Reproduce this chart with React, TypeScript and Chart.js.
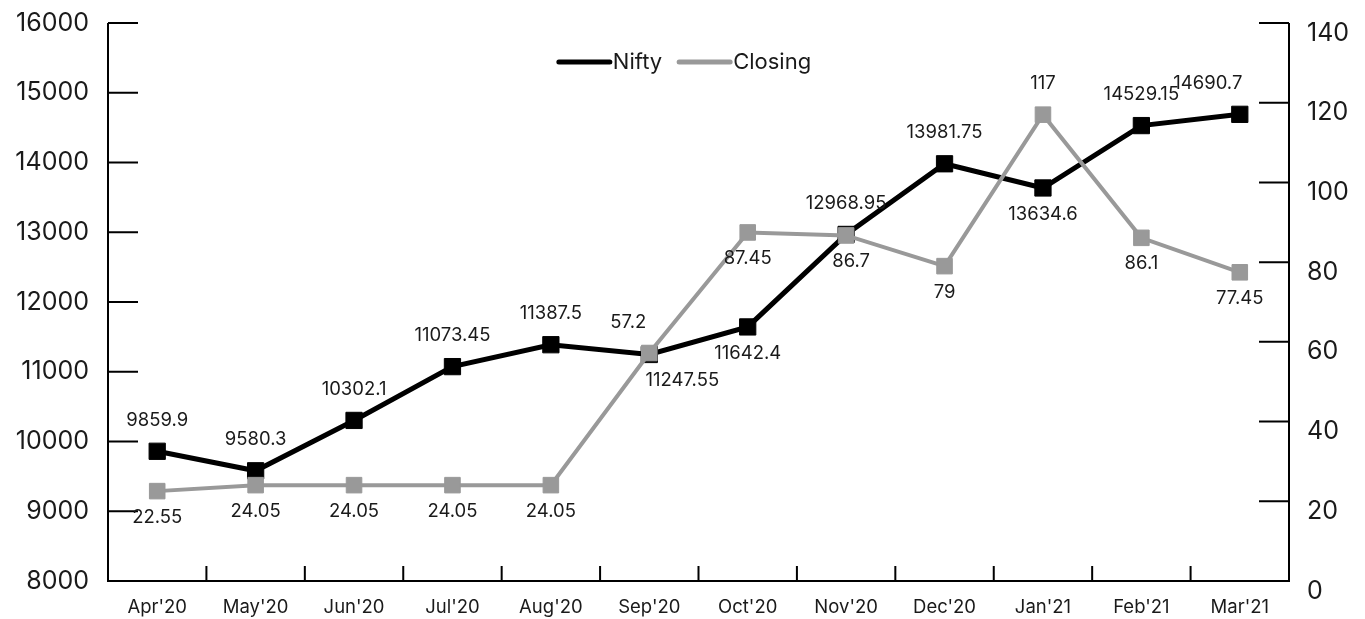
import React, { useEffect, useRef } from "react";
import { Chart, registerables } from "chart.js";

Chart.register(...registerables);

const categories = ["Apr'20", "May'20", "Jun'20", "Jul'20", "Aug'20", "Sep'20", "Oct'20", "Nov'20", "Dec'20", "Jan'21", "Feb'21", "Mar'21"];
const niftyValues = [9859.9, 9580.3, 10302.1, 11073.45, 11387.5, 11247.55, 11642.4, 12968.95, 13981.75, 13634.6, 14529.15, 14690.7];
const closingValues = [22.55, 24.05, 24.05, 24.05, 24.05, 57.2, 87.45, 86.7, 79, 117, 86.1, 77.45];
const niftyLabelSide = ["a", "a", "a", "a", "a", "b", "b", "a", "a", "b", "a", "a"];
const niftyLabelDx = [0, 0, 0, 0, 0, 33, 0, 0, 0, 0, 0, -32];
const closingLabelSide = ["b", "b", "b", "b", "b", "a", "b", "b", "b", "a", "b", "b"];
const closingLabelDx = [0, 0, 0, 0, 0, -21, 0, 5, 0, 0, 0, 0];

const FONT = "Inter, 'Noto Sans', sans-serif";
const TEXT = "#1a1a1a";
const BLACK = "#000000";
const GRAY = "#999999";

const overlayPlugin = {
  id: "overlay",
  beforeDatasetsDraw(chart: any) {
    const { ctx, chartArea } = chart;
    const { left, right, top, bottom } = chartArea;
    const yL = chart.scales.y;
    const yR = chart.scales.y1;
    const x = chart.scales.x;
    ctx.save();
    ctx.strokeStyle = BLACK;
    ctx.lineWidth = 2;
    ctx.lineCap = "butt";
    ctx.beginPath();
    ctx.moveTo(left, top);
    ctx.lineTo(left, bottom);
    ctx.lineTo(right, bottom);
    ctx.lineTo(right, top);
    ctx.stroke();
    ctx.beginPath();
    yL.ticks.forEach((t: any) => {
      const py = yL.getPixelForValue(t.value);
      ctx.moveTo(left, py);
      ctx.lineTo(left + 30, py);
    });
    yR.ticks.forEach((t: any) => {
      const py = yR.getPixelForValue(t.value);
      ctx.moveTo(right, py);
      ctx.lineTo(right - 30, py);
    });
    for (let i = 1; i < categories.length; i++) {
      const px = (x.getPixelForValue(i - 1) + x.getPixelForValue(i)) / 2;
      ctx.moveTo(px, bottom);
      ctx.lineTo(px, bottom - 15);
    }
    ctx.stroke();
    ctx.restore();
  },
  afterDatasetsDraw(chart: any) {
    const { ctx } = chart;
    ctx.save();
    ctx.font = `18.5px ${FONT}`;
    ctx.fillStyle = TEXT;
    ctx.textAlign = "center";
    ctx.textBaseline = "middle";
    const drawLabels = (dsIndex: number, values: number[], side: string[], dx: number[]) => {
      const meta = chart.getDatasetMeta(dsIndex);
      meta.data.forEach((pt: any, i: number) => {
        const dy = side[i] === "a" ? -31 : 26;
        ctx.fillText(String(values[i]), pt.x + dx[i], pt.y + dy);
      });
    };
    drawLabels(0, niftyValues, niftyLabelSide, niftyLabelDx);
    drawLabels(1, closingValues, closingLabelSide, closingLabelDx);

    // legend
    ctx.font = `22px ${FONT}`;
    ctx.textAlign = "left";
    const items = [
      { text: "Nifty", color: BLACK },
      { text: "Closing", color: GRAY },
    ];
    const lineLen = 51;
    const gapText = 3;
    const gapItem = 17;
    let total = 0;
    items.forEach((it, i) => {
      total += lineLen + gapText + ctx.measureText(it.text).width + (i < items.length - 1 ? gapItem : 0);
    });
    let cx = 685 - total / 2;
    const ly = 62;
    items.forEach((it) => {
      ctx.strokeStyle = it.color;
      ctx.lineWidth = 5;
      ctx.lineCap = "round";
      ctx.beginPath();
      ctx.moveTo(cx, ly);
      ctx.lineTo(cx + lineLen, ly);
      ctx.stroke();
      cx += lineLen + gapText;
      ctx.fillStyle = TEXT;
      ctx.fillText(it.text, cx, ly);
      cx += ctx.measureText(it.text).width + gapItem;
    });
    ctx.restore();
  },
};

export default function App() {
  const canvasRef = useRef<HTMLCanvasElement | null>(null);

  useEffect(() => {
    const canvas = canvasRef.current;
    if (!canvas) return;
    const chart = new Chart(canvas, {
      type: "line",
      data: {
        labels: categories,
        datasets: [
          {
            label: "Nifty",
            data: niftyValues,
            yAxisID: "y",
            borderColor: BLACK,
            backgroundColor: BLACK,
            borderWidth: 5,
            pointStyle: "rect",
            pointRadius: 11.5,
            pointBorderWidth: 1,
            pointBackgroundColor: BLACK,
            pointBorderColor: BLACK,
            tension: 0,
            order: 1,
          },
          {
            label: "Closing",
            data: closingValues,
            yAxisID: "y1",
            borderColor: GRAY,
            backgroundColor: GRAY,
            borderWidth: 4,
            pointStyle: "rect",
            pointRadius: 11,
            pointBorderWidth: 1,
            pointBackgroundColor: GRAY,
            pointBorderColor: GRAY,
            tension: 0,
            order: 0,
          },
        ],
      },
      options: {
        animation: false,
        responsive: false,
        maintainAspectRatio: false,
        layout: { padding: { top: 23, left: 0, right: 0, bottom: 0 } },
        plugins: {
          legend: { display: false },
          tooltip: { enabled: false },
          title: { display: false },
        },
        scales: {
          x: {
            type: "category",
            offset: true,
            grid: { display: false, drawTicks: false },
            border: { display: false },
            ticks: { color: TEXT, font: { family: FONT, size: 18.5 }, padding: 15, maxRotation: 0, autoSkip: false },
            afterFit: (s: any) => { s.height = 38; s.paddingLeft = 0; s.paddingRight = 0; },
          },
          y: {
            position: "left",
            min: 8000,
            max: 16000,
            grid: { display: false, drawTicks: false },
            border: { display: false },
            ticks: { stepSize: 1000, color: TEXT, font: { family: FONT, size: 25 }, padding: 19, callback: (v: any) => String(v) },
            afterFit: (s: any) => { s.width = 108; s.paddingTop = 0; s.paddingBottom = 0; },
          },
          y1: {
            position: "right",
            min: 0,
            max: 140,
            grid: { display: false, drawTicks: false },
            border: { display: false },
            ticks: { stepSize: 20, color: TEXT, font: { family: FONT, size: 25 }, padding: 18, labelOffset: 10, callback: (v: any) => String(v) },
            afterFit: (s: any) => { s.width = 76; s.paddingTop = 0; s.paddingBottom = 0; },
          },
        },
      },
      plugins: [overlayPlugin],
    } as any);
    return () => chart.destroy();
  }, []);

  return (
    <div style={{ position: "fixed", left: 0, top: 0, width: 1365, height: 619, background: "#ffffff" }}>
      <canvas ref={canvasRef} width={1365} height={619} style={{ width: 1365, height: 619, display: "block" }} />
    </div>
  );
}
